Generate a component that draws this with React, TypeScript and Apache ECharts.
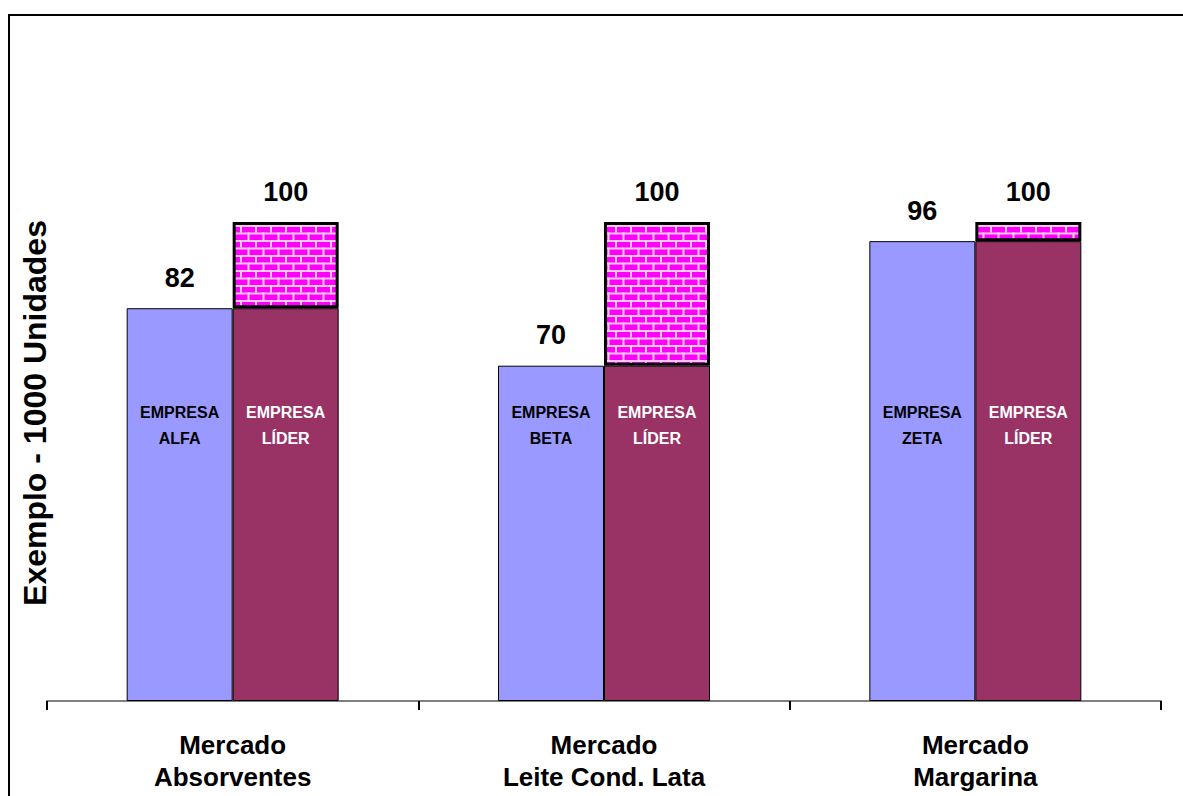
import React, { useEffect, useRef } from "react";
import * as echarts from "echarts";

const categories = ["Mercado\nAbsorventes", "Mercado\nLeite Cond. Lata", "Mercado\nMargarina"];
const companyNames = ["ALFA", "BETA", "ZETA"];
const companyValues = [82, 70, 96];
const leaderValues = [100, 100, 100];
const yAxisTitle = "Exemplo - 1000 Unidades";
const FONT = "'Liberation Sans', Arial, sans-serif";

function makeBrick(): HTMLCanvasElement {
  const c = document.createElement("canvas");
  c.width = 15;
  c.height = 15;
  const ctx = c.getContext("2d")!;
  ctx.fillStyle = "#FF00FF";
  ctx.fillRect(0, 0, 15, 15);
  ctx.fillStyle = "#FFCCEE";
  ctx.fillRect(0, 0, 15, 2);
  ctx.fillRect(0, 7.5, 15, 2);
  ctx.fillRect(0, 0, 2, 7.5);
  ctx.fillRect(7.5, 7.5, 2, 7.5);
  return c;
}

export default function App() {
  const ref = useRef<HTMLDivElement>(null);
  useEffect(() => {
    document.body.style.margin = "0";
    const chart = echarts.init(ref.current!, null, { renderer: "svg" });
    const gap = leaderValues.map((v, i) => v - companyValues[i]);
    const brick = makeBrick();
    chart.setOption({
      animation: false,
      grid: { left: 47, right: 22, top: 222, bottom: 95 },
      xAxis: {
        type: "category",
        data: categories,
        axisLine: { lineStyle: { color: "#808080", width: 2 } },
        axisTick: { show: true, length: 9, lineStyle: { color: "#000", width: 2 } },
        axisLabel: {
          fontFamily: FONT,
          fontWeight: "bold",
          fontSize: 26,
          lineHeight: 32,
          color: "#000",
          margin: 28,
        },
      },
      yAxis: {
        type: "value",
        min: 0,
        max: 100,
        show: false,
        splitLine: { show: false },
      },
      graphic: [
        {
          type: "rect",
          shape: { x: 9, y: 15, width: 1300, height: 900 },
          style: { fill: "none", stroke: "#000", lineWidth: 2 },
          silent: true,
        },
        {
          type: "text",
          x: 35,
          y: 413,
          rotation: Math.PI / 2,
          style: {
            text: yAxisTitle,
            font: `bold 32px ${FONT}`,
            fill: "#000",
            textAlign: "center",
            textVerticalAlign: "middle",
          },
        },
      ],
      series: [
        {
          type: "bar",
          stack: "C",
          barWidth: 106,
          barGap: "0%",
          data: companyValues,
          itemStyle: { color: "#9999FF", borderColor: "#000", borderWidth: 1 },
          label: {
            show: true,
            position: "insideBottom",
            distance: 250,
            formatter: (p: any) => "EMPRESA\n" + companyNames[p.dataIndex],
            fontFamily: FONT,
            fontWeight: "bold",
            fontSize: 16,
            lineHeight: 26,
            color: "#000",
          },
        },
        {
          type: "bar",
          stack: "C",
          barWidth: 106,
          barGap: "0%",
          data: companyValues.map(() => 0),
          itemStyle: { color: "transparent", borderWidth: 0 },
          label: {
            show: true,
            position: "top",
            distance: 17,
            formatter: (p: any) => String(companyValues[p.dataIndex]),
            fontFamily: FONT,
            fontWeight: "bold",
            fontSize: 27,
            color: "#000",
          },
        },
        {
          type: "bar",
          stack: "L",
          barWidth: 106,
          barGap: "0%",
          data: companyValues,
          itemStyle: { color: "#993366", borderColor: "#000", borderWidth: 1 },
          label: {
            show: true,
            position: "insideBottom",
            distance: 250,
            formatter: () => "EMPRESA\nLÍDER",
            fontFamily: FONT,
            fontWeight: "bold",
            fontSize: 16,
            lineHeight: 26,
            color: "#fff",
          },
        },
        {
          type: "bar",
          stack: "L",
          barWidth: 106,
          barGap: "0%",
          data: gap,
          itemStyle: {
            color: { image: brick, repeat: "repeat" },
            borderColor: "#000",
            borderWidth: 3,
          },
          label: {
            show: true,
            position: "top",
            distance: 17,
            formatter: (p: any) => String(leaderValues[p.dataIndex]),
            fontFamily: FONT,
            fontWeight: "bold",
            fontSize: 27,
            color: "#000",
          },
        },
      ],
    });
    return () => chart.dispose();
  }, []);
  return <div ref={ref} style={{ width: 1183, height: 796 }} />;
}
